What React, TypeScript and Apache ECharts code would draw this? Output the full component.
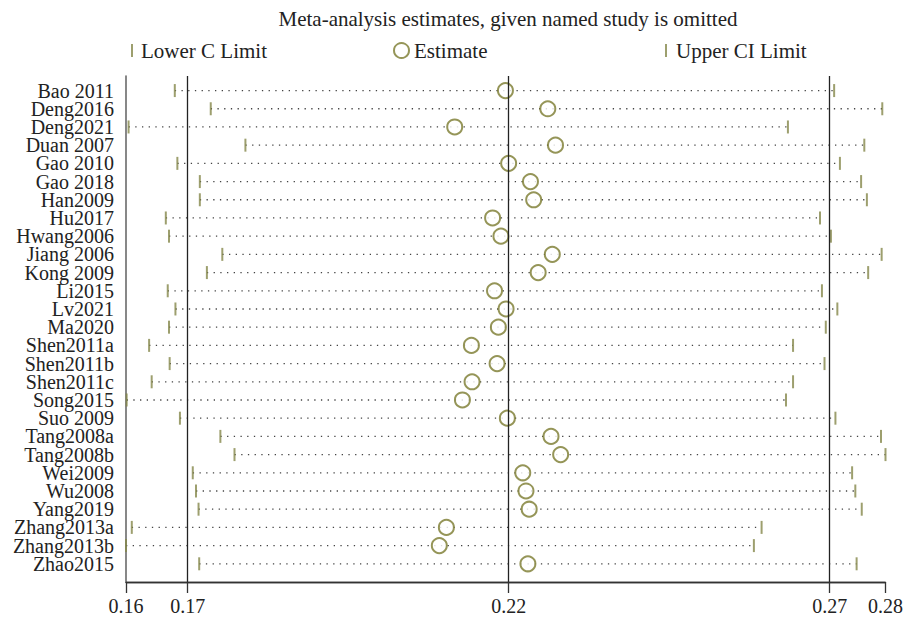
import React, { useEffect, useRef } from "react";
import * as echarts from "echarts";

const studies = [
  "Bao 2011", "Deng2016", "Deng2021", "Duan 2007", "Gao 2010", "Gao 2018", "Han2009",
  "Hu2017", "Hwang2006", "Jiang 2006", "Kong 2009", "Li2015", "Lv2021", "Ma2020",
  "Shen2011a", "Shen2011b", "Shen2011c", "Song2015", "Suo 2009", "Tang2008a", "Tang2008b",
  "Wei2009", "Wu2008", "Yang2019", "Zhang2013a", "Zhang2013b", "Zhao2015",
];

const lowerCI = [
  0.1680, 0.1736, 0.1608, 0.1790, 0.1684, 0.1719, 0.1719,
  0.1666, 0.1671, 0.1754, 0.1730, 0.1669, 0.1681, 0.1671,
  0.1640, 0.1672, 0.1644, 0.1605, 0.1688, 0.1751, 0.1773,
  0.1708, 0.1713, 0.1717, 0.1613, 0.1604, 0.1718,
];

const estimate = [
  0.2195, 0.2261, 0.2116, 0.2273, 0.2200, 0.2234, 0.2239,
  0.2175, 0.2188, 0.2268, 0.2246, 0.2178, 0.2196, 0.2184,
  0.2142, 0.2182, 0.2143, 0.2128, 0.2198, 0.2266, 0.2281,
  0.2222, 0.2227, 0.2232, 0.2103, 0.2092, 0.2230,
];

const upperCI = [
  0.2707, 0.2782, 0.2635, 0.2754, 0.2716, 0.2749, 0.2758,
  0.2685, 0.2702, 0.2781, 0.2760, 0.2688, 0.2712, 0.2694,
  0.2643, 0.2692, 0.2643, 0.2632, 0.2709, 0.2780, 0.2787,
  0.2735, 0.2740, 0.2750, 0.2594, 0.2582, 0.2742,
];

const referenceLines = [0.17, 0.22, 0.27];

const TITLE = "Meta-analysis estimates, given named study is omitted";
const FONT = "'Liberation Serif', 'Times New Roman', serif";
const OLIVE = "#85874a";
const CIRCLE = "#7a7b2e";
const TEXT = "#222";

export default function App() {
  const ref = useRef<HTMLDivElement>(null);

  useEffect(() => {
    if (!ref.current) return;
    const chart = echarts.init(ref.current, null, { renderer: "svg" });
    const n = studies.length;
    const yMax = n + 0.8;
    const xMin = Math.min(...lowerCI);
    const xMax = Math.max(...upperCI);
    const xTicks = [xMin, ...referenceLines, xMax];
    // first study at the top: position n, last study at 1
    const rowPos = studies.map((_, i) => n - i);
    // blank end labels absorb the axis' min/max-label overlap handling
    const yLabelValues = [0, ...rowPos.slice().reverse(), yMax];

    const option: any = {
      animation: false,
      backgroundColor: "#fff",
      textStyle: { fontFamily: FONT },
      title: {
        text: TITLE,
        left: 503,
        top: 3,
        textAlign: "center",
        textStyle: { fontFamily: FONT, fontSize: 21, fontWeight: "normal", color: TEXT },
      },
      legend: [
        {
          data: [{ name: "Lower C Limit", icon: "rect" }],
          left: 126, top: 35, itemWidth: 2, itemHeight: 13,
          textStyle: { fontFamily: FONT, fontSize: 21, color: TEXT, padding: [0, 0, 0, 3] },
        },
        {
          data: [{ name: "Estimate", icon: "emptyCircle" }],
          left: 388, top: 35, itemWidth: 15, itemHeight: 15,
          textStyle: { fontFamily: FONT, fontSize: 21, color: TEXT },
        },
        {
          data: [{ name: "Upper CI Limit", icon: "rect" }],
          left: 660, top: 35, itemWidth: 2, itemHeight: 13,
          textStyle: { fontFamily: FONT, fontSize: 21, color: TEXT, padding: [0, 0, 0, 4] },
        },
      ],
      grid: { left: 126, right: 906 - 887, top: 76, bottom: 625 - 582, containLabel: false },
      xAxis: {
        type: "value",
        position: "bottom",
        min: xMin,
        max: xMax,
        z: 5,
        axisLine: { show: true, onZero: false, lineStyle: { color: "#333", width: 1.3 } },
        axisTick: {
          show: true,
          customValues: xTicks,
          length: 11,
          lineStyle: { color: "#333", width: 1.3 },
        },
        axisLabel: {
          customValues: xTicks,
          formatter: (v: number) => v.toFixed(2),
          fontFamily: FONT,
          fontSize: 20,
          color: TEXT,
          margin: 14,
          hideOverlap: false,
        },
        splitLine: { show: false },
      },
      yAxis: {
        type: "value",
        min: 0,
        max: yMax,
        axisLine: { show: true, onZero: false, lineStyle: { color: "#6a6a6a", width: 1.6 } },
        axisTick: { show: false },
        axisLabel: {
          customValues: yLabelValues,
          formatter: (v: number) => {
            const k = Math.round(v);
            if (Math.abs(v - k) > 1e-6 || k < 1 || k > n) return "";
            return studies[n - k];
          },
          fontFamily: FONT,
          fontSize: 20,
          lineHeight: 15,
          color: TEXT,
          margin: 12,
          hideOverlap: false,
        },
        splitLine: { show: false },
      },
      series: [
        {
          type: "custom",
          name: "ci",
          silent: true,
          z: 1,
          data: rowPos.map((p, i) => [lowerCI[i], upperCI[i], p]),
          encode: { x: [0, 1], y: 2 },
          renderItem: (params: any, api: any) => {
            const p1 = api.coord([api.value(0), api.value(2)]);
            const p2 = api.coord([api.value(1), api.value(2)]);
            return {
              type: "line",
              shape: { x1: p1[0], y1: p1[1], x2: p2[0], y2: p2[1] },
              style: { stroke: "#444", lineWidth: 1.3, lineDash: [1.3, 5.4] },
            };
          },
          markLine: {
            silent: true,
            symbol: "none",
            label: { show: false },
            lineStyle: { color: "#222", width: 1.3, type: "solid" },
            data: [
              ...referenceLines.map((v) => ({ xAxis: v })),
              { yAxis: 0, lineStyle: { color: "#333", width: 1.3, type: "solid" } },
            ],
          },
        },
        {
          type: "scatter",
          name: "Lower C Limit",
          symbol: "rect",
          symbolSize: [2, 13],
          z: 3,
          itemStyle: { color: OLIVE },
          data: rowPos.map((p, i) => [lowerCI[i], p]),
        },
        {
          type: "scatter",
          name: "Estimate",
          symbol: "emptyCircle",
          symbolSize: 15,
          z: 4,
          itemStyle: { color: CIRCLE, borderColor: CIRCLE, borderWidth: 1.6 },
          data: rowPos.map((p, i) => [estimate[i], p]),
        },
        {
          type: "scatter",
          name: "Upper CI Limit",
          symbol: "rect",
          symbolSize: [2, 13],
          z: 3,
          itemStyle: { color: OLIVE },
          data: rowPos.map((p, i) => [upperCI[i], p]),
        },
      ],
    };
    chart.setOption(option);
    return () => chart.dispose();
  }, []);

  return (
    <div
      ref={ref}
      style={{ position: "fixed", left: 0, top: 0, width: 906, height: 625, background: "#fff" }}
    />
  );
}
